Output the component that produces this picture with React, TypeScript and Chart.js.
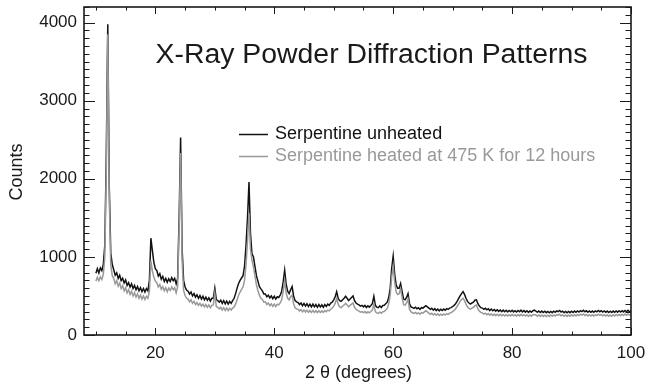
import React, { useEffect, useRef } from "react";
import { Chart, registerables } from "chart.js";

Chart.register(...registerables);

// ---- data ----
const THETA_START = 10; // first 2θ sample (degrees)
const THETA_STEP = 0.25; // 2θ sample spacing (degrees)

// one row per degree: x.00, x.25, x.50, x.75
const unheated = [
  790, 850, 795, 860, // 10
  825, 905, 1150, 2300, // 11
  3980, 1900, 1050, 905, // 12
  835, 765, 795, 725, // 13
  765, 695, 725, 665, // 14
  705, 635, 670, 615, // 15
  655, 595, 635, 580, // 16
  620, 565, 605, 555, // 17
  595, 550, 595, 565, // 18
  700, 1240, 1080, 930, // 19
  850, 825, 755, 785, // 20
  715, 750, 685, 725, // 21
  675, 720, 685, 735, // 22
  695, 725, 655, 725, // 23
  1500, 2530, 1100, 700, // 24
  615, 575, 560, 525, // 25
  550, 500, 530, 485, // 26
  515, 470, 505, 460, // 27
  495, 450, 485, 445, // 28
  475, 435, 470, 470, // 29
  600, 455, 440, 420, // 30
  445, 405, 440, 400, // 31
  435, 395, 430, 405, // 32
  440, 470, 530, 600, // 33
  660, 700, 730, 760, // 34
  880, 1150, 1500, 1960, // 35
  1300, 1040, 1000, 880, // 36
  760, 690, 620, 590, // 37
  565, 525, 525, 490, // 38
  510, 475, 500, 465, // 39
  495, 460, 490, 480, // 40
  510, 560, 680, 830, // 41
  650, 560, 530, 580, // 42
  620, 500, 440, 425, // 43
  415, 390, 410, 375, // 44
  405, 370, 400, 365, // 45
  395, 360, 395, 360, // 46
  390, 355, 390, 360, // 47
  385, 355, 390, 365, // 48
  395, 380, 410, 420, // 49
  450, 490, 555, 470, // 50
  440, 430, 450, 470, // 51
  495, 470, 440, 460, // 52
  480, 500, 440, 410, // 53
  395, 385, 370, 380, // 54
  360, 378, 352, 373, // 55
  357, 378, 400, 495, // 56
  380, 357, 350, 373, // 57
  352, 378, 380, 400, // 58
  420, 480, 600, 850, // 59
  1010, 780, 640, 600, // 60
  600, 660, 560, 460, // 61
  450, 480, 530, 400, // 62
  360, 350, 340, 355, // 63
  335, 348, 327, 350, // 64
  345, 360, 375, 360, // 65
  345, 328, 342, 318, // 66
  337, 313, 332, 310, // 67
  330, 313, 332, 318, // 68
  337, 328, 345, 350, // 69
  365, 380, 400, 430, // 70
  465, 500, 530, 555, // 71
  520, 470, 430, 410, // 72
  395, 410, 420, 445, // 73
  450, 400, 370, 350, // 74
  345, 328, 342, 323, // 75
  337, 313, 332, 310, // 76
  327, 306, 324, 303, // 77
  320, 300, 318, 298, // 78
  317, 296, 314, 298, // 79
  316, 296, 312, 294, // 80
  314, 298, 318, 296, // 81
  312, 293, 310, 290, // 82
  308, 292, 312, 318, // 83
  307, 290, 308, 288, // 84
  306, 288, 304, 286, // 85
  302, 285, 302, 286, // 86
  304, 290, 308, 300, // 87
  314, 294, 306, 286, // 88
  302, 284, 302, 286, // 89
  304, 288, 306, 290, // 90
  308, 294, 312, 300, // 91
  316, 298, 310, 292, // 92
  308, 290, 306, 290, // 93
  308, 296, 314, 298, // 94
  312, 294, 308, 290, // 95
  306, 288, 304, 288, // 96
  306, 290, 308, 292, // 97
  310, 294, 312, 296, // 98
  314, 298, 316, 300, // 99
  310, // 100
];

const heated = [
  690, 740, 695, 745, // 10
  710, 775, 1000, 2100, // 11
  3850, 1750, 900, 760, // 12
  725, 655, 695, 625, // 13
  665, 595, 630, 565, // 14
  605, 540, 580, 520, // 15
  560, 500, 540, 485, // 16
  525, 470, 510, 460, // 17
  500, 455, 495, 470, // 18
  560, 950, 820, 740, // 19
  690, 670, 615, 645, // 20
  585, 620, 565, 605, // 21
  555, 600, 570, 615, // 22
  580, 605, 540, 620, // 23
  1350, 2330, 950, 570, // 24
  505, 470, 460, 425, // 25
  450, 405, 430, 390, // 26
  415, 380, 405, 370, // 27
  395, 360, 390, 355, // 28
  385, 350, 380, 385, // 29
  535, 365, 355, 335, // 30
  355, 320, 350, 315, // 31
  345, 313, 343, 320, // 32
  345, 360, 395, 450, // 33
  510, 550, 585, 615, // 34
  700, 900, 1200, 1560, // 35
  1100, 960, 870, 760, // 36
  640, 570, 510, 470, // 37
  455, 420, 425, 390, // 38
  410, 375, 400, 367, // 39
  395, 363, 393, 385, // 40
  410, 450, 560, 700, // 41
  540, 470, 450, 490, // 42
  510, 400, 350, 335, // 43
  328, 309, 325, 297, // 44
  321, 295, 318, 292, // 45
  315, 289, 313, 289, // 46
  311, 287, 311, 289, // 47
  309, 289, 313, 297, // 48
  319, 309, 330, 345, // 49
  370, 405, 470, 395, // 50
  360, 350, 368, 385, // 51
  405, 385, 360, 380, // 52
  395, 410, 355, 330, // 53
  315, 305, 292, 300, // 54
  287, 300, 280, 297, // 55
  283, 300, 320, 395, // 56
  300, 283, 276, 294, // 57
  278, 298, 300, 320, // 58
  340, 400, 510, 740, // 59
  880, 680, 550, 520, // 60
  530, 595, 480, 390, // 61
  380, 410, 460, 330, // 62
  295, 285, 276, 290, // 63
  272, 284, 266, 287, // 64
  280, 295, 310, 295, // 65
  280, 266, 278, 256, // 66
  274, 253, 270, 250, // 67
  267, 252, 270, 256, // 68
  274, 264, 280, 288, // 69
  300, 315, 335, 365, // 70
  395, 430, 455, 470, // 71
  440, 395, 360, 340, // 72
  330, 345, 355, 375, // 73
  385, 335, 305, 290, // 74
  282, 268, 280, 260, // 75
  274, 253, 270, 250, // 76
  267, 248, 266, 246, // 77
  264, 246, 262, 244, // 78
  262, 243, 260, 244, // 79
  264, 246, 260, 242, // 80
  262, 245, 264, 247, // 81
  260, 242, 258, 240, // 82
  257, 241, 260, 262, // 83
  256, 240, 258, 238, // 84
  256, 238, 254, 236, // 85
  254, 238, 256, 240, // 86
  258, 244, 262, 252, // 87
  266, 246, 258, 240, // 88
  256, 238, 256, 240, // 89
  258, 242, 260, 244, // 90
  262, 248, 266, 254, // 91
  268, 250, 262, 244, // 92
  260, 242, 258, 242, // 93
  260, 248, 266, 252, // 94
  264, 246, 260, 242, // 95
  258, 240, 256, 240, // 96
  260, 244, 262, 246, // 97
  264, 248, 266, 250, // 98
  268, 252, 270, 254, // 99
  264, // 100
];

const seriesLabels = ["Serpentine unheated", "Serpentine heated at 475 K for 12 hours"];
const seriesColors = ["#121212", "#999999"];
const xTickValues = [20, 40, 60, 80, 100];
const yTickValues = [0, 1000, 2000, 3000, 4000];
const X_MIN = 8;
const X_MAX = 100;
const Y_MIN = 0;
const Y_MAX = 4200;
const titleText = "X-Ray Powder Diffraction Patterns";
const xTitleText = "2 θ (degrees)";
const yTitleText = "Counts";

const FONT = "'Liberation Sans', Arial, Helvetica, sans-serif";
const INK = "#1a1a1a";

const toPoints = (vals: number[]) =>
  vals.map((v, i) => ({ x: THETA_START + i * THETA_STEP, y: v }));

const decorPlugin = {
  id: "decor",
  afterDatasetsDraw(chart: any) {
    const { ctx, chartArea: a, scales } = chart;
    const xs = scales.x;
    const ys = scales.y;
    ctx.save();
    ctx.strokeStyle = INK;
    ctx.lineWidth = 1;
    const seg = (x1: number, y1: number, x2: number, y2: number) => {
      ctx.beginPath();
      ctx.moveTo(x1, y1);
      ctx.lineTo(x2, y2);
      ctx.stroke();
    };
    // x ticks (inward, bottom and top)
    for (let v = 10; v <= X_MAX; v += 5) {
      const px = Math.round(xs.getPixelForValue(v)) + 0.5;
      const len = v % 20 === 0 ? 7 : 3.5;
      seg(px, a.bottom, px, a.bottom - len);
      seg(px, a.top, px, a.top + len);
    }
    // y ticks (inward, left and right)
    for (let v = Y_MIN; v <= Y_MAX; v += 100) {
      const py = Math.round(ys.getPixelForValue(v)) + 0.5;
      const len = v % 1000 === 0 ? 11 : 5.5;
      seg(a.left, py, a.left + len, py);
      seg(a.right, py, a.right - len, py);
    }
    // frame
    ctx.lineWidth = 1.6;
    ctx.strokeRect(a.left, a.top, a.right - a.left, a.bottom - a.top);

    // title
    ctx.fillStyle = INK;
    ctx.font = `28.4px ${FONT}`;
    ctx.textAlign = "center";
    ctx.textBaseline = "alphabetic";
    ctx.fillText(titleText, 371.5, 63);

    // legend
    const ds = chart.data.datasets;
    const legendY = [134.5, 156.5];
    ctx.font = `18px ${FONT}`;
    ctx.textAlign = "left";
    ctx.textBaseline = "middle";
    ds.forEach((d: any, i: number) => {
      ctx.strokeStyle = d.borderColor;
      ctx.lineWidth = 1.5;
      seg(239, legendY[i], 268, legendY[i]);
      ctx.fillStyle = d.borderColor;
      ctx.fillText(d.label, 275, legendY[i]);
    });

    // axis titles
    ctx.fillStyle = INK;
    ctx.font = `18px ${FONT}`;
    ctx.textAlign = "left";
    ctx.textBaseline = "middle";
    ctx.fillText(xTitleText, 305, 373);
    ctx.save();
    ctx.translate(17.5, 172);
    ctx.rotate(-Math.PI / 2);
    ctx.textAlign = "center";
    ctx.fillText(yTitleText, 0, 0);
    ctx.restore();

    ctx.restore();
  },
};

export default function App() {
  const canvasRef = useRef<HTMLCanvasElement | null>(null);

  useEffect(() => {
    const canvas = canvasRef.current;
    if (!canvas) return;
    const chart = new Chart(canvas, {
      type: "line",
      data: {
        datasets: [
          {
            label: seriesLabels[0],
            data: toPoints(unheated),
            borderColor: seriesColors[0],
            borderWidth: 1.5,
            pointRadius: 0,
            tension: 0,
            fill: false,
            order: 1,
          },
          {
            label: seriesLabels[1],
            data: toPoints(heated),
            borderColor: seriesColors[1],
            borderWidth: 1.5,
            pointRadius: 0,
            tension: 0,
            fill: false,
            order: 0,
          },
        ],
      },
      options: {
        responsive: false,
        animation: false,
        events: [],
        layout: { padding: { left: 0, top: 7, right: 17, bottom: 0 } },
        plugins: {
          legend: { display: false },
          tooltip: { enabled: false },
          title: { display: false },
        },
        scales: {
          x: {
            type: "linear",
            min: X_MIN,
            max: X_MAX,
            grid: { display: false, drawTicks: false },
            border: { display: false },
            ticks: {
              color: INK,
              font: { family: FONT, size: 17 },
              padding: 8,
              maxRotation: 0,
              autoSkip: false,
              callback: (v: any) => String(v),
            },
            afterBuildTicks: (scale: any) => {
              scale.ticks = xTickValues.map((v) => ({ value: v }));
            },
            afterFit: (scale: any) => {
              scale.height = 50;
              scale.paddingLeft = 0;
              scale.paddingRight = 0;
            },
          },
          y: {
            type: "linear",
            min: Y_MIN,
            max: Y_MAX,
            grid: { display: false, drawTicks: false },
            border: { display: false },
            ticks: {
              color: INK,
              font: { family: FONT, size: 17 },
              padding: 7,
              autoSkip: false,
              callback: (v: any) => String(v),
            },
            afterBuildTicks: (scale: any) => {
              scale.ticks = yTickValues.map((v) => ({ value: v }));
            },
            afterFit: (scale: any) => {
              scale.width = 84;
              scale.paddingTop = 0;
              scale.paddingBottom = 0;
            },
          },
        },
      },
      plugins: [decorPlugin],
    });
    return () => chart.destroy();
  }, []);

  return (
    <div style={{ position: "absolute", left: 0, top: 0, width: 648, height: 385, background: "#fff" }}>
      <canvas ref={canvasRef} width={648} height={385} />
    </div>
  );
}
